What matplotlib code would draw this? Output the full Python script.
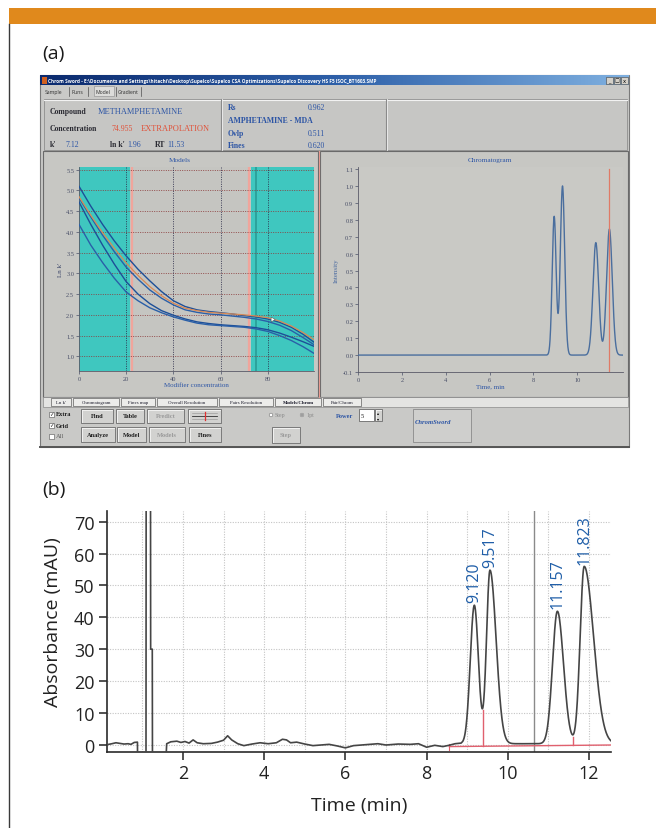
import numpy as np
import matplotlib
matplotlib.use("Agg")
import matplotlib.pyplot as plt
from matplotlib.patches import Rectangle
from matplotlib.colors import LinearSegmentedColormap

# ---------------- data ----------------
# Panel (a) left: retention models (ln k' vs modifier concentration)
mod_conc = [0, 5, 10, 15, 20, 25, 30, 35, 40, 45, 50, 55, 60, 65, 70, 75, 80, 85, 90, 95, 99.6]
lnk_a = [5.10, 4.62, 4.18, 3.78, 3.42, 3.10, 2.82, 2.56, 2.34, 2.20, 2.12, 2.08, 2.05, 2.02, 1.98, 1.95, 1.90, 1.82, 1.70, 1.53, 1.34]
lnk_orange = [4.85, 4.40, 3.98, 3.60, 3.25, 2.95, 2.68, 2.46, 2.28, 2.16, 2.10, 2.06, 2.04, 2.02, 2.00, 1.97, 1.93, 1.85, 1.73, 1.57, 1.40]
lnk_b = [4.82, 4.36, 3.92, 3.52, 3.15, 2.86, 2.60, 2.40, 2.24, 2.12, 2.06, 2.02, 2.00, 1.97, 1.94, 1.90, 1.84, 1.75, 1.62, 1.45, 1.28]
lnk_c = [4.72, 4.18, 3.68, 3.22, 2.80, 2.50, 2.27, 2.10, 1.99, 1.90, 1.83, 1.79, 1.76, 1.74, 1.72, 1.69, 1.64, 1.56, 1.46, 1.35, 1.24]
lnk_d = [4.18, 3.68, 3.26, 2.88, 2.55, 2.34, 2.17, 2.05, 1.95, 1.87, 1.80, 1.76, 1.74, 1.72, 1.70, 1.66, 1.60, 1.50, 1.38, 1.23, 1.07]
model_yticks = [1.0, 1.5, 2.0, 2.5, 3.0, 3.5, 4.0, 4.5, 5.0, 5.5]
model_xticks = [0, 20, 40, 60, 80]

# Panel (a) right: predicted chromatogram peaks (time, height, width)
sim_rt = [8.95, 9.33, 10.85, 11.47]
sim_height = [0.82, 1.00, 0.665, 0.745]
sim_width = [0.09, 0.10, 0.13, 0.13]
sim_marker = 11.45
sim_yticks = [-0.1, 0.0, 0.1, 0.2, 0.3, 0.4, 0.5, 0.6, 0.7, 0.8, 0.9, 1.0, 1.1]
sim_xticks = [0, 2, 4, 6, 8, 10]

# Panel (b): measured chromatogram
base_t = [0.13, 0.25, 0.35, 0.45, 0.55, 0.65, 0.72, 0.80, 0.88, 0.885, 1.09, 1.095, 1.20, 1.205, 1.245,
          1.25, 1.56, 1.60, 1.70, 1.85, 1.95, 2.05, 2.15, 2.25, 2.35, 2.50, 2.70, 2.85, 3.00, 3.10,
          3.20, 3.35, 3.50, 3.70, 3.90, 4.10, 4.30, 4.45, 4.55, 4.65, 4.80, 5.00, 5.20, 5.40, 5.60,
          5.80, 6.00, 6.20, 6.50, 6.80, 7.00, 7.30, 7.60, 7.80, 8.00, 8.20, 8.40, 8.55, 8.70, 8.85]
base_y = [0.0, 0.3, 0.6, 0.4, 0.2, 0.3, 0.1, 0.7, 0.8, -10, -10, 100, 100, 30, 30,
          -10, -10, 0.3, 0.9, 1.1, 0.7, 1.0, 0.5, 1.5, 0.6, 0.3, 0.4, 0.8, 1.4, 2.8,
          1.5, 0.3, -0.3, 0.2, 0.6, 0.3, 0.6, 1.7, 1.5, 0.6, 0.8, 0.2, -0.3, -0.1, 0.1,
          -0.4, -1.0, -0.3, 0.0, 0.3, -0.1, 0.2, 0.1, 0.3, -0.8, -0.2, -0.6, -0.2, 0.3, 0.5]
peak_rt = [9.175, 9.56, 11.22, 11.88]
peak_height = [43.5, 54.5, 41.6, 55.7]
peak_sigma_left = [0.10, 0.085, 0.12, 0.10]
peak_sigma_right = [0.10, 0.15, 0.15, 0.23]
peak_labels = ["9.120", "9.517", "11.157", "11.823"]
peak_baseline = 0.3
end_time = 12.54
integ_base_t = [8.56, 12.54]
integ_base_y = [-0.6, -0.1]
drop_t = [9.38, 11.61]
drop_top = [11.0, 2.4]
marker_t = 10.64
b_xticks = [2, 4, 6, 8, 10, 12]
b_yticks = [0, 10, 20, 30, 40, 50, 60, 70]

# ---------------- figure ----------------
W, H = 656, 829
fig = plt.figure(figsize=(W / 100, H / 100), dpi=100)
fig.patch.set_facecolor("white")


def add_ax(x0, y0, x1, y1, **kw):
    return fig.add_axes([x0 / W, 1 - y1 / H, (x1 - x0) / W, (y1 - y0) / H], **kw)


bg = add_ax(0, 0, W, H)
bg.set_xlim(0, W)
bg.set_ylim(H, 0)
bg.axis("off")
bg.set_zorder(-5)

SANS = ["Open Sans", "DejaVu Sans"]
SERIF = ["Liberation Serif", "DejaVu Serif"]

# orange header bar and left rule
bg.add_patch(Rectangle((9, 9), W - 9, 16, color="#e0891c", lw=0))
bg.plot([9.3, 9.3], [25, H], color="#3a3a3a", lw=1.0)

bg.text(42, 54, "(a)", fontsize=14, family=SANS, color="#1a1a1a", va="center", ha="left")
bg.text(42, 490, "(b)", fontsize=14, family=SANS, color="#1a1a1a", va="center", ha="left")

# ---- screenshot window ----
WIN_BG = "#c9c9c7"
bg.add_patch(Rectangle((40, 76), 589, 372, fc=WIN_BG, ec="#7a7a7a", lw=0.8))
bg.plot([40, 629], [448, 448], color="#555555", lw=1.4)
grad = np.linspace(0, 1, 256).reshape(1, -1)
tb_cmap = LinearSegmentedColormap.from_list("tb", ["#0b2a6e", "#2d5fa8", "#7fb0e0"])
bg.imshow(grad, cmap=tb_cmap, extent=(40, 629, 86, 76), aspect="auto", zorder=1)
bg.text(48, 81.2, "Chrom Sword - E:\\Documents and Settings\\hitachi\\Desktop\\Supelco\\Supelco CSA Optimizations\\Supelco Discovery HS F5 ISOC_BT1603.SMP",
        fontsize=3.4, color="white", fontweight="bold", family=SANS, va="center", zorder=2)
bg.add_patch(Rectangle((41.5, 77.5), 5, 7, fc="#d06020", ec="none", zorder=2))
for bx in (606, 613.5, 621):
    bg.add_patch(Rectangle((bx, 77.5), 6.5, 7, fc="#d4d0c8", ec="#404040", lw=0.4, zorder=2))
bg.text(609.2, 81, "_", fontsize=3.5, ha="center", va="center", zorder=3)
bg.text(616.7, 81, "□", fontsize=3.5, ha="center", va="center", zorder=3, family=["DejaVu Sans"])
bg.text(624.2, 81, "x", fontsize=3.8, ha="center", va="center", zorder=3)

# tabs row
bg.add_patch(Rectangle((94, 86.5), 20, 10.5, fc="#dcdcda", ec="#8a8a8a", lw=0.4))
for label, xx in [("Sample", 45), ("Runs", 72), ("Model", 96), ("Gradient", 118)]:
    bg.text(xx, 92.5, label, fontsize=3.7, family=SANS, color="#303030", va="center")
for sx in (69, 88, 116, 141):
    bg.plot([sx, sx], [88, 97], color="#505050", lw=0.5)

# info panel
bg.add_patch(Rectangle((44, 100), 583, 51, fc="#c6c6c4", ec="#8e8e8e", lw=0.6))
bg.plot([44, 627], [100.5, 100.5], color="#f2f2f2", lw=0.8)
for dx in (221, 386):
    bg.plot([dx, dx], [100, 151], color="#8a8a8a", lw=0.8)
    bg.plot([dx + 1, dx + 1], [100, 151], color="#efefef", lw=0.6)
DARK = "#2b2b33"
BLUE = "#2d55a5"
RED = "#e0523a"
fs_i = 5.6
bg.text(50, 112, "Compound", fontsize=fs_i, family=SERIF, fontweight="bold", color=DARK, va="center")
bg.text(98, 112, "METHAMPHETAMINE", fontsize=6.0, family=SERIF, color=BLUE, va="center")
bg.text(50, 129, "Concentration", fontsize=fs_i, family=SERIF, fontweight="bold", color=DARK, va="center")
bg.text(112, 129, "74.955", fontsize=fs_i, family=SERIF, color=RED, va="center")
bg.text(141, 129, "EXTRAPOLATION", fontsize=6.0, family=SERIF, color=RED, va="center")
bg.text(50, 145, "k'", fontsize=fs_i, family=SERIF, fontweight="bold", color=DARK, va="center")
bg.text(66, 145, "7.12", fontsize=fs_i, family=SERIF, color=BLUE, va="center")
bg.text(110, 145, "ln k'", fontsize=fs_i, family=SERIF, fontweight="bold", color=DARK, va="center")
bg.text(127, 145, "1.96", fontsize=fs_i, family=SERIF, color=BLUE, va="center")
bg.text(155, 145, "RT", fontsize=fs_i, family=SERIF, fontweight="bold", color=DARK, va="center")
bg.text(167, 145, "11.53", fontsize=fs_i, family=SERIF, color=BLUE, va="center")
bg.text(228, 108, "Rs", fontsize=fs_i, family=SERIF, fontweight="bold", color=BLUE, va="center")
bg.text(308, 108, "0.962", fontsize=fs_i, family=SERIF, color=BLUE, va="center")
bg.text(228, 121, "AMPHETAMINE - MDA", fontsize=fs_i, family=SERIF, fontweight="bold", color=BLUE, va="center")
bg.text(228, 134, "Ovlp", fontsize=fs_i, family=SERIF, fontweight="bold", color=BLUE, va="center")
bg.text(308, 134, "0.511", fontsize=fs_i, family=SERIF, color=BLUE, va="center")
bg.text(228, 146, "Fines", fontsize=fs_i, family=SERIF, fontweight="bold", color=BLUE, va="center")
bg.text(308, 146, "0.620", fontsize=fs_i, family=SERIF, color=BLUE, va="center")

# plot panels
PANEL = "#c7c7c3"
bg.add_patch(Rectangle((43, 152), 275, 246, fc=PANEL, ec="#6a6a6a", lw=0.8))
bg.add_patch(Rectangle((320, 152), 308, 246, fc=PANEL, ec="#6a6a6a", lw=0.8))
bg.plot([319, 319], [152, 398], color="#e89a90", lw=0.8)
bg.text(180, 160, "Models", fontsize=5.2, family=SERIF, color=BLUE, ha="center", va="center")
bg.text(490, 160, "Chromatogram", fontsize=5.2, family=SERIF, color=BLUE, ha="center", va="center")

# tab strip
bg.add_patch(Rectangle((43, 398), 585, 10, fc="#e4e4e2", ec="#8a8a8a", lw=0.5))
tabs = [("Ln k'", 51, 71), ("Chromatogram", 73, 119), ("Fines map", 121, 155),
        ("Overall Resolution", 157, 217), ("Pairs Resolution", 219, 273),
        ("Models/Chrom", 275, 321), ("Pair/Chrom", 323, 361)]
for label, x0, x1 in tabs:
    bg.add_patch(Rectangle((x0, 399), x1 - x0, 8, fc="#ececea", ec="#404040", lw=0.4))
    bg.text((x0 + x1) / 2, 403.2, label, fontsize=3.5, family=SERIF, color="#1a1a2a",
            ha="center", va="center", fontweight="bold" if label == "Models/Chrom" else "normal")


def button(x0, y0, x1, y1, label, active=True, fs=4.6):
    bg.add_patch(Rectangle((x0, y0), x1 - x0, y1 - y0, fc="#d2d2d0", ec="#5a5a5a", lw=0.5))
    bg.plot([x0 + 0.6, x1 - 0.6], [y0 + 0.8, y0 + 0.8], color="#f6f6f6", lw=0.6)
    bg.plot([x0 + 0.8, x0 + 0.8], [y0 + 0.6, y1 - 0.6], color="#f6f6f6", lw=0.6)
    if label:
        bg.text((x0 + x1) / 2, (y0 + y1) / 2, label, fontsize=fs, family=SERIF,
                fontweight="bold", color="#1e1e1e" if active else "#9a9a9a",
                ha="center", va="center")


for label, yy, checked in [("Extra", 415, True), ("Grid", 426, True), ("All", 437, False)]:
    bg.add_patch(Rectangle((48.5, yy - 2.5), 5, 5, fc="white", ec="#505050", lw=0.4))
    if checked:
        bg.text(51, yy, "✓", fontsize=4, color="#202020", ha="center", va="center", family=["DejaVu Sans"])
    bg.text(56, yy, label, fontsize=4.6, family=SERIF, fontweight="bold" if checked else "normal",
            color="#1e1e1e" if checked else "#606060", va="center")

button(81, 410, 113, 424, "Find")
button(116, 410, 144, 424, "Table")
button(147, 410, 184, 424, "Predict", active=False)
button(188, 410, 221, 424, "")
bg.plot([192, 217], [417, 417], color="#303030", lw=0.6)
bg.plot([192, 217], [414, 414], color="#909090", lw=0.4)
bg.plot([192, 217], [420, 420], color="#909090", lw=0.4)
bg.plot([204.5, 204.5], [413, 421], color="#e03030", lw=0.9)
button(81, 428, 115, 443, "Analyze")
button(117, 428, 146, 443, "Model")
button(149, 428, 185, 443, "Models", active=False)
button(189, 428, 221, 443, "Fines")

bg.add_patch(plt.Circle((271, 416), 1.8, fc="white", ec="#707070", lw=0.4))
bg.text(275, 416, "Step", fontsize=4.3, family=SERIF, color="#8a8a8a", va="center")
bg.add_patch(plt.Circle((302, 416), 1.8, fc="white", ec="#707070", lw=0.4))
bg.add_patch(plt.Circle((302, 416), 0.8, fc="#404040", ec="none"))
bg.text(306, 416, "1pt", fontsize=4.3, family=SERIF, color="#8a8a8a", va="center")
bg.text(336, 416, "Power", fontsize=4.6, family=SERIF, fontweight="bold", color=BLUE, va="center")
bg.add_patch(Rectangle((359, 410), 15, 12, fc="white", ec="#505050", lw=0.5))
bg.text(361, 416, "5", fontsize=4.6, family=SERIF, color="#1e1e1e", va="center")
button(375, 410, 382, 422, "")
bg.text(378.5, 413.5, "▴", fontsize=3, ha="center", va="center", family=["DejaVu Sans"])
bg.text(378.5, 418.8, "▾", fontsize=3, ha="center", va="center", family=["DejaVu Sans"])
button(272, 428, 300, 444, "Step", active=False)
bg.add_patch(Rectangle((413, 410), 58, 33, fc="#cfcfcd", ec="#8a8a8a", lw=0.6))
bg.text(415, 423, "ChromSword", fontsize=4.8, family=SERIF, fontweight="bold", style="italic",
        color=BLUE, va="center")

# ---- panel (a) left: Models ----
ax1 = add_ax(79, 168, 314, 372)
ax1.set_facecolor("#c5c5c1")
ax1.set_xlim(0, 99.6)
ax1.set_ylim(0.645, 5.565)
ax1.axvspan(0, 21.6, color="#3fc7bf", lw=0, zorder=0)
ax1.axvspan(72.7, 99.6, color="#3fc7bf", lw=0, zorder=0)
for xv in (22.4, 72.1):
    ax1.axvline(xv, color="#f0a59c", lw=1.6, zorder=0.5)
ax1.axvline(75.2, color="#2a9c95", lw=1.2, zorder=0.6)
for yv in model_yticks:
    ax1.axhline(yv, color="#8c3c3c", lw=0.6, ls=(0, (1.2, 1.6)), zorder=1)
for xv in model_xticks[1:]:
    ax1.axvline(xv, color="#2a2a48", lw=0.6, ls=(0, (1.2, 1.6)), zorder=1)
ax1.plot(mod_conc, lnk_a, color="#1d4f98", lw=1.0, zorder=3)
ax1.plot(mod_conc, lnk_b, color="#2a5fa8", lw=1.0, zorder=3)
ax1.plot(mod_conc, lnk_orange, color="#d98a55", lw=0.9, zorder=4)
ax1.plot(mod_conc, lnk_c, color="#1d4f98", lw=1.0, zorder=3)
ax1.plot(mod_conc, lnk_d, color="#2a5fa8", lw=1.0, zorder=3)
ax1.plot([82], [1.9], marker=(3, 0, 30), ms=4, color="white", mec="#404040", mew=0.3, zorder=5)
ax1.set_xticks(model_xticks)
ax1.set_yticks(model_yticks)
ax1.set_yticklabels([f"{v:.1f}" for v in model_yticks])
ax1.tick_params(labelsize=4.6, colors="#4a5068", length=2, width=0.5, pad=1.5)
for lab in ax1.get_xticklabels() + ax1.get_yticklabels():
    lab.set_family(SERIF)
for s in ("top", "right"):
    ax1.spines[s].set_visible(False)
for s in ("left", "bottom"):
    ax1.spines[s].set_color("#5a5a68")
    ax1.spines[s].set_linewidth(0.6)
ax1.set_ylabel("Ln k'", fontsize=5, family=SERIF, color="#3a4468", labelpad=2)
ax1.set_xlabel("Modifier concentration", fontsize=5, family=SERIF, color=BLUE, labelpad=1)

# ---- panel (a) right: Chromatogram ----
ax2 = add_ax(358, 168, 623, 373)
ax2.set_facecolor("#c9c9c5")
ax2.set_xlim(0, 12.09)
ax2.set_ylim(-0.1, 1.112)
tt = np.arange(0, 12.09, 0.005)
sim = np.zeros_like(tt)
for c, h, w in zip(sim_rt, sim_height, sim_width):
    sim += h * np.exp(-0.5 * ((tt - c) / w) ** 2)
ax2.plot(tt, sim, color="#4a6e9e", lw=1.0, zorder=3)
ax2.axvline(sim_marker, ymax=0.99, color="#e07a66", lw=0.9, zorder=4)
ax2.set_xticks(sim_xticks)
ax2.set_yticks(sim_yticks)
ax2.set_yticklabels([f"{v:.1f}" for v in sim_yticks])
ax2.tick_params(labelsize=4.6, colors="#4a5068", length=2, width=0.5, pad=1.5)
for lab in ax2.get_xticklabels() + ax2.get_yticklabels():
    lab.set_family(SERIF)
for s in ("top", "right"):
    ax2.spines[s].set_visible(False)
for s in ("left", "bottom"):
    ax2.spines[s].set_color("#5a5a68")
    ax2.spines[s].set_linewidth(0.6)
ax2.set_ylabel("Intensity", fontsize=5, family=SERIF, color="#4a6aa0", labelpad=3)
ax2.set_xlabel("Time, min", fontsize=5, family=SERIF, color=BLUE, labelpad=1)

# ---- panel (b) ----
axb = add_ax(107, 512, 611, 753)
axb.set_xlim(0.13, end_time)
axb.set_ylim(-2.3, 73.4)
t_pk = np.arange(base_t[-1], end_time + 0.001, 0.004)
y_pk = np.full_like(t_pk, peak_baseline)
for c, h, sl, sr in zip(peak_rt, peak_height, peak_sigma_left, peak_sigma_right):
    s = np.where(t_pk < c, sl, sr)
    y_pk += h * np.exp(-0.5 * ((t_pk - c) / s) ** 2)
trace_t = np.concatenate([base_t, t_pk[1:]])
trace_y = np.concatenate([base_y, y_pk[1:]])
axb.plot(trace_t, trace_y, color="#454545", lw=1.2, zorder=3)
axb.axvline(marker_t, color="#8a8a8a", lw=1.0, zorder=2)
axb.plot(integ_base_t, integ_base_y, color="#e0606e", lw=1.0, zorder=2.5)
for dt, top in zip(drop_t, drop_top):
    yb = np.interp(dt, integ_base_t, integ_base_y)
    axb.plot([dt, dt], [yb, top], color="#e0606e", lw=1.0, zorder=2.5)
axb.plot([integ_base_t[0]] * 2, [integ_base_y[0] - 1.2, integ_base_y[0] + 0.8], color="#e0606e", lw=0.8)
for c, h, lab in zip(peak_rt, peak_height, peak_labels):
    axb.text(c, h + 1.2, lab, rotation=90, ha="center", va="bottom", fontsize=11.5,
             family=SANS, color="#1f5ea8", zorder=5)

axb.set_xticks(b_xticks)
axb.set_xticks(np.arange(1, 13, 1), minor=True)
axb.set_yticks(b_yticks)
axb.grid(True, which="both", axis="x", color="#c4c4c4", lw=0.8, ls=(0, (1, 1.3)))
axb.grid(True, which="major", axis="y", color="#c4c4c4", lw=0.8, ls=(0, (1, 1.3)))
axb.set_axisbelow(True)
axb.tick_params(axis="both", which="major", labelsize=13, colors="#222222", length=6, width=1.1,
                direction="out", pad=3)
axb.tick_params(axis="x", which="minor", length=0)
for lab in axb.get_xticklabels() + axb.get_yticklabels():
    lab.set_family(SANS)
for s in ("top", "right"):
    axb.spines[s].set_visible(False)
for s in ("left", "bottom"):
    axb.spines[s].set_color("#2a2a2a")
    axb.spines[s].set_linewidth(1.2)
axb.set_ylabel("Absorbance (mAU)", fontsize=14, family=SANS, color="#222222")
axb.yaxis.set_label_coords(-0.09, 0.544)
axb.set_xlabel("Time (min)", fontsize=14, family=SANS, color="#222222")
axb.xaxis.set_label_coords(0.5, -0.183)

# legend-like annotation in (b)
bg.plot([129, 135], [519, 519], color="#404040", lw=0.6)
bg.text(137, 514, "UV", fontsize=2.8, family=SANS, color="#303030", va="center")
bg.text(137, 519, "90_ICI4CN_Buffer MIX_002", fontsize=2.8, family=SANS, fontweight="bold",
        color="#303030", va="center")
bg.text(121, 524.5, "Retention Time", fontsize=3.4, family=SANS, color="#3050b0", va="center")

fig.savefig("out.png", dpi=100, facecolor="white")
